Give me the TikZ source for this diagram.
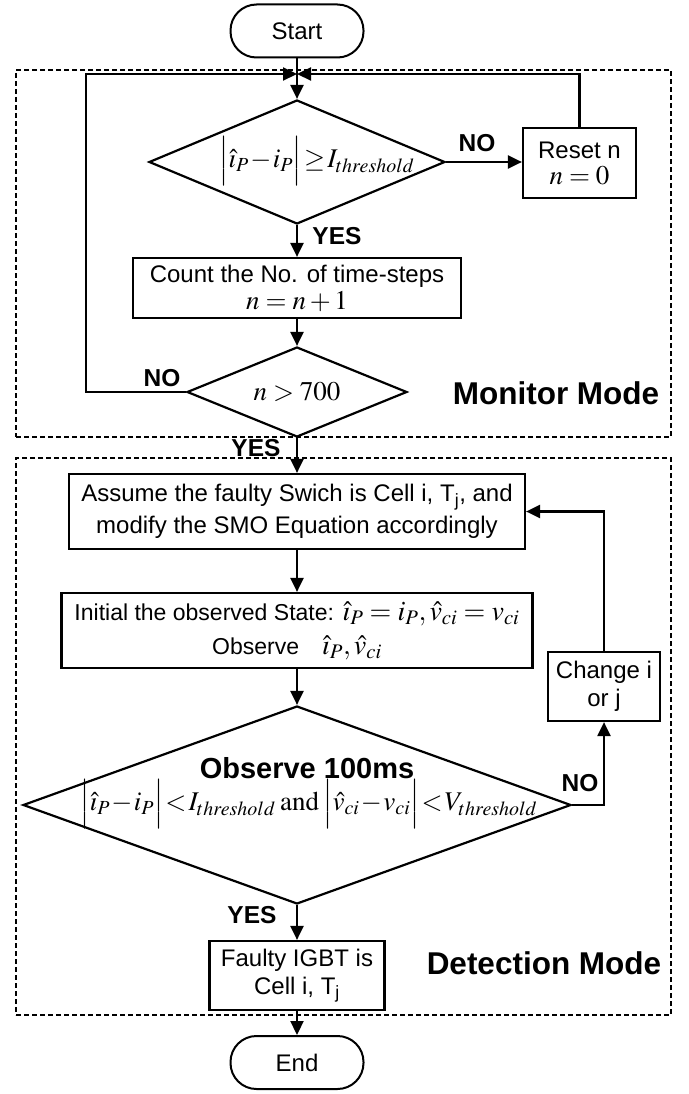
\documentclass[tikz,border=0pt]{standalone}
\usepackage{mathptmx}
\usepackage[no-math]{fontspec}
\setmainfont{Liberation Sans}
\usetikzlibrary{arrows.meta,shapes.geometric}

% compact spacing for the formulas inside the decision shapes
\newcommand{\tightmath}{\medmuskip=1mu\thickmuskip=1.5mu}
\newcommand{\mfont}{\fontsize{27}{30}\selectfont}

\begin{document}
\begin{tikzpicture}[x=1pt,y=-1pt,
  txt/.style={font=\fontsize{24}{28}\selectfont, align=center},
  terminal/.style={draw, line width=2pt, rounded corners=26pt, minimum width=133pt, minimum height=53pt, inner sep=0pt, txt},
  proc/.style={draw, line width=2.2pt, inner sep=0pt, txt},
  decision/.style={draw, diamond, line width=2.2pt, inner sep=0pt},
  mathtxt/.style={font=\mfont\tightmath, inner sep=0pt},
  modebox/.style={draw, line width=2pt, dash pattern=on 5pt off 3pt, inner sep=0pt},
  flow/.style={-{Triangle[length=14pt,width=13pt]}, line width=2.2pt},
  lbl/.style={font=\bfseries\fontsize{24.5}{27}\selectfont, inner sep=0pt},
  modelbl/.style={font=\bfseries\fontsize{31.5}{35}\selectfont, inner sep=0pt}
]
\useasboundingbox (0,0) rectangle (688,1094);
\fill[white] (0,0) rectangle (688,1094);

% mode frames
\node[modebox, minimum width=655pt, minimum height=367pt] (monitor) at (343.5,253.5) {};
\node[modebox, minimum width=655pt, minimum height=557pt] (detect) at (343.5,736.5) {};

% monitor mode
\node[terminal] (start) at (297,31) {Start};
\node[decision, minimum width=296pt, minimum height=124pt] (d1) at (297,162) {};
\node[mathtxt] (d1t) at (317,161) {$\Bigl|\hat{\imath}_P - i_P\Bigr| \geq I_{threshold}$};
\node[proc, minimum width=113pt, minimum height=70pt] (reset) at (579.5,163) {Reset n\\[-2pt]{\mfont$n=0$}};
\node[proc, minimum width=328pt, minimum height=60pt] (count) at (297,288) {Count the No. of time-steps\\[-1pt]{\mfont$n=n+1$}};
\node[decision, minimum width=220pt, minimum height=90pt] (d2) at (297,392) {};
\node[font=\mfont, inner sep=0pt] (d2t) at (297,392) {$n>700$};
\node[modelbl] (mon) at (556,393) {Monitor Mode};

% detection mode
\node[proc, minimum width=456pt, minimum height=75pt, font=\fontsize{24}{32}\selectfont] (assume) at (297,511.5) {Assume the faulty Swich is Cell i, T\textsubscript{j}, and\\modify the SMO Equation accordingly};
\node[proc, minimum width=471pt, minimum height=75pt, font=\fontsize{23}{28}\selectfont] (init) at (297,630.5) {Initial the observed State: {\fontsize{28}{30}\selectfont$\hat{\imath}_P = i_P, \hat{v}_{ci} = v_{ci}$}\\[6pt]Observe\quad{\fontsize{28}{30}\selectfont$\hat{\imath}_P, \hat{v}_{ci}$}};
\node[proc, minimum width=112pt, minimum height=69pt] (change) at (604,686.5) {Change i\\or j};
\node[decision, minimum width=548pt, minimum height=198pt] (d3) at (297,805) {};
\node[font=\bfseries\fontsize{29}{32}\selectfont, inner sep=0pt] (obs) at (307,768) {Observe 100ms};
\node[mathtxt] (d3t) at (309,804) {$\Bigl|\hat{\imath}_P - i_P\Bigr| < I_{threshold}\;\;\mathrm{and}\;\;\Bigl|\hat{v}_{ci} - v_{ci}\Bigr| < V_{threshold}$};
\node[proc, minimum width=175pt, minimum height=69pt] (faulty) at (297,975.5) {Faulty IGBT is\\Cell i, T\textsubscript{j}};
\node[modelbl] (det) at (544,963) {Detection Mode};
\node[terminal] (end) at (297,1062.5) {End};

% connectors
\coordinate (join) at (297,74);
\coordinate (loopl) at (86,74);
\draw[flow] (start) -- (d1);
\draw[flow] (d2.west) -- (d2.west -| loopl) -- (loopl) -- (join);
\draw[flow] (reset.north) |- (join);
\draw[flow] (d1.east) -- (d1.east -| reset.west);
\draw[flow] (d1.south) -- (count.north);
\draw[flow] (count) -- (d2);
\draw[flow] (d2.south) -- (assume.north);
\draw[flow] (assume) -- (init);
\draw[flow] (init) -- (d3);
\draw[flow] (d3.south) -- (faulty.north);
\draw[flow] (faulty) -- (end);
\draw[flow] (d3.east) -| (change.south);
\draw[flow] (change.north) |- (assume.east);

% branch labels
\node[lbl] (no1) at (477,143) {NO};
\node[lbl] (yes1) at (337,236) {YES};
\node[lbl] (no2) at (162,378) {NO};
\node[lbl] (yes2) at (256,448) {YES};
\node[lbl] (no3) at (580,783) {NO};
\node[lbl] (yes3) at (252,915) {YES};
\end{tikzpicture}
\end{document}
